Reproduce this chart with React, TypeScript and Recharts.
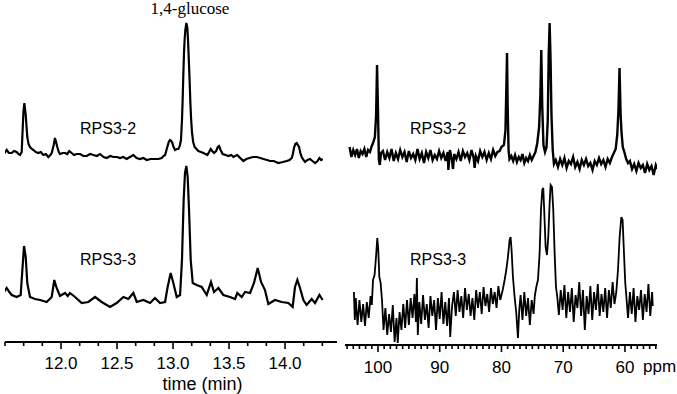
import { Line, LineChart, XAxis, YAxis } from "recharts";

// GC traces: [time (min), detector response], baseline ~0
const gcRps32: [number, number][] = [
  [11.47, 3], [11.49, 1], [11.515, 5], [11.535, 2], [11.56, 2], [11.58, 4], [11.604, 3], [11.62, 1], [11.634, 0],
  [11.649, 3], [11.664, 42], [11.673, 52], [11.685, 40], [11.699, 18], [11.71, 11], [11.723, 8], [11.74, 6],
  [11.753, 5], [11.775, 3], [11.798, 2], [11.82, 3], [11.842, 0], [11.865, 1], [11.887, -2], [11.905, 0],
  [11.917, 2], [11.935, 10], [11.946, 17], [11.958, 12], [11.967, 8], [11.98, 3], [11.991, 1], [12.015, 2],
  [12.036, 2], [12.055, 1], [12.074, 4], [12.095, 2], [12.116, 0], [12.14, 1], [12.17, 1], [12.2, -1],
  [12.229, -1], [12.26, 1], [12.289, 0], [12.32, -1], [12.348, 1], [12.38, -2], [12.408, -3], [12.44, -1],
  [12.467, -2], [12.5, -2], [12.527, -3], [12.555, -2], [12.586, -4], [12.615, -2], [12.646, 0], [12.675, -3],
  [12.705, -4], [12.735, -3], [12.765, -5], [12.8, -4], [12.839, -4], [12.87, -4], [12.899, -3], [12.915, -1],
  [12.929, 0], [12.949, 8], [12.962, 13], [12.973, 15], [12.985, 14], [12.994, 12], [13.005, 8], [13.018, 5],
  [13.035, 6], [13.048, 6], [13.06, 9], [13.071, 15], [13.08, 35], [13.086, 55], [13.092, 80], [13.098, 102],
  [13.104, 116], [13.11, 125], [13.119, 132], [13.128, 127], [13.134, 115], [13.14, 98], [13.148, 75],
  [13.155, 52], [13.162, 35], [13.17, 22], [13.18, 13], [13.193, 8], [13.21, 6], [13.226, 4], [13.25, 3],
  [13.271, 2], [13.29, 1], [13.307, 0], [13.322, 3], [13.336, 6], [13.35, 4], [13.366, 2], [13.385, 4],
  [13.4, 8], [13.411, 9], [13.425, 5], [13.443, 1], [13.47, 0], [13.494, -1], [13.52, 0], [13.539, -2],
  [13.555, -1], [13.574, 0], [13.6, -3], [13.628, -6], [13.655, -4], [13.682, -3], [13.715, -2], [13.747, -2],
  [13.78, -3], [13.807, -4], [13.84, -5], [13.866, -6], [13.9, -6], [13.94, -8], [13.98, -7], [14.015, -6],
  [14.04, -5], [14.06, -3], [14.07, 1], [14.08, 7], [14.092, 11], [14.104, 12], [14.115, 10], [14.125, 8],
  [14.137, 2], [14.149, -2], [14.165, -5], [14.179, -7], [14.2, -5], [14.223, -4], [14.245, -6], [14.268, -8],
  [14.29, -6], [14.307, -3], [14.322, -5], [14.336, -4],
];

const gcRps33: [number, number][] = [
  [11.47, 9], [11.491, 8], [11.515, 12], [11.539, 8], [11.56, 5], [11.604, 3], [11.64, 5], [11.655, 30],
  [11.67, 54], [11.685, 43], [11.699, 17], [11.723, 3], [11.768, 1], [11.813, 0], [11.872, -2], [11.917, 3],
  [11.94, 20], [11.961, 12], [11.991, 4], [12.036, 7], [12.06, 4], [12.08, 7], [12.125, 3], [12.185, -3],
  [12.244, -2], [12.304, 3], [12.363, -2], [12.4375, -7], [12.497, -3], [12.557, 3], [12.601, 1], [12.646, 7],
  [12.676, -2], [12.735, 0], [12.795, -3], [12.839, 2], [12.884, -3], [12.929, -2], [12.952, 13], [12.979, 27],
  [13.003, 17], [13.033, 3], [13.063, 5], [13.08, 40], [13.095, 100], [13.107, 127], [13.119, 134],
  [13.131, 123], [13.143, 90], [13.158, 40], [13.176, 17], [13.211, 15], [13.256, 13], [13.301, 5],
  [13.339, 18], [13.366, 8], [13.405, 12], [13.449, 5], [13.509, 3], [13.554, 1], [13.574, 7], [13.613, 3],
  [13.643, 8], [13.688, 7], [13.723, 17], [13.756, 32], [13.786, 18], [13.821, 10], [13.851, -4], [13.911, 0],
  [13.97, -2], [14.03, -3], [14.068, -7], [14.089, 13], [14.11, 20], [14.134, 12], [14.164, 0], [14.193, -5],
  [14.238, 1], [14.268, -3], [14.307, 5], [14.336, 0],
];

// 13C NMR traces: [ppm, intensity]
const nmrRps32: [number, number][] = [
  [104.6, 8], [104.3, -2], [104.0, 5], [103.7, 0], [103.4, 6], [103.1, -3], [102.8, 4], [102.5, 1], [102.2, 6],
  [101.9, -2], [101.6, 5], [101.3, 3], [101.0, 9], [100.8, 12], [100.5, 18], [100.3, 40], [100.15, 90],
  [100.0, 45], [99.85, -5], [99.7, -10], [99.5, 2],
  [99.2, 4], [98.85, -5], [98.5, 3], [98.15, -3], [97.8, 6], [97.45, -6], [97.1, 2], [96.75, -4], [96.4, 5],
  [96.05, -2], [95.7, 3], [95.35, -7], [95.0, 4], [94.65, -3], [94.3, 1], [93.95, -5], [93.6, 6], [93.25, -4],
  [92.9, 2], [92.55, -8], [92.2, 3], [91.85, -3], [91.5, 5], [91.15, -5], [90.8, 0], [90.45, -4], [90.1, 4],
  [89.75, -3], [89.4, 2], [89.05, -6], [88.7, 3], [88.6, -15], [88.35, 5], [88.0, -6], [87.85, -14], [87.65, 1],
  [87.3, -4], [86.95, 3], [86.6, -6], [86.25, 4], [85.9, -2], [85.55, 2], [85.2, -5], [84.85, 5], [84.5, -3],
  [84.35, -13], [84.15, -1], [83.8, -6], [83.45, 4], [83.1, -2], [82.75, 3], [82.4, -5], [82.05, 2], [81.7, -4],
  [81.35, 5], [81.0, -1], [80.65, 3], [80.3, 4], [80.0, 8],
  [79.6, 10], [79.35, 25], [79.2, 70], [79.1, 102], [79.0, 50], [78.85, 5], [78.7, -4],
  [78.4, -1], [78.1, -6], [77.8, 0], [77.5, -7], [77.2, -2], [76.9, -5], [76.6, 1], [76.3, -8], [76.0, -3],
  [75.7, -6], [75.4, 0], [75.1, -5], [74.8, -1], [74.5, 3],
  [74.2, 12], [73.9, 28], [73.7, 60], [73.55, 105], [73.4, 50], [73.2, 10], [72.95, 3], [72.7, 8], [72.5, 35],
  [72.35, 100], [72.2, 132], [72.05, 95], [71.9, 40], [71.7, 5], [71.5, -9],
  [71.2, -5], [70.85, -12], [70.5, -4], [70.15, -10], [69.8, -3], [69.45, -13], [69.1, -6], [68.75, -9],
  [68.4, -2], [68.05, -12], [67.7, -7], [67.35, -14], [67.0, -5], [66.65, -10], [66.3, -4], [65.95, -11],
  [65.6, -8], [65.25, -15], [64.9, -6], [64.55, -10], [64.2, -3], [63.85, -9], [63.5, -5], [63.15, -12],
  [62.8, -4], [62.45, -8], [62.1, -2], [61.8, 2],
  [61.5, 6], [61.25, 20], [61.05, 45], [60.88, 87], [60.7, 40], [60.55, 22], [60.35, 8], [60.1, 3], [59.8, -4],
  [59.5, -8],
  [59.2, -6], [58.85, -14], [58.5, -9], [58.15, -16], [57.8, -8], [57.45, -13], [57.1, -10], [56.75, -18],
  [56.4, -9], [56.05, -15], [55.7, -11], [55.35, -20], [55.0, -10], [54.7, -14],
];

const nmrRps33: [number, number][] = [
  [103.9, 18], [103.75, -10], [103.6, 12], [103.3, -15], [103.0, 10], [102.7, -12], [102.4, 6], [102.1, -16],
  [101.8, 8], [101.5, -8], [101.2, 14], [101.0, 5],
  [100.8, 30], [100.55, 35], [100.32, 53], [100.11, 72], [99.95, 60], [99.78, 33], [99.57, 27], [99.35, 10],
  [99.1, -20], [98.8, 2], [98.5, -25], [98.2, -4], [97.9, -22], [97.6, 5], [97.3, -32], [97.0, -8], [96.8, -33],
  [96.5, -2], [96.2, -20], [95.9, 6], [95.6, -18],
  [95.3, 10], [95.0, -15], [94.7, 12], [94.4, -8], [94.1, 16], [93.85, -12], [93.7, 32], [93.55, -25],
  [93.3, 8], [93.0, -14], [92.7, 15], [92.4, -10], [92.1, 6], [91.8, -18], [91.5, 14], [91.2, -6], [90.9, 10],
  [90.6, -20], [90.3, 12], [90.0, -9], [89.7, 18], [89.4, -14], [89.1, 8], [88.8, -16], [88.5, 12], [88.3, -27],
  [88.0, 4],
  [87.7, 18], [87.4, -6], [87.1, 20], [86.8, -2], [86.5, 14], [86.2, -8], [85.9, 22], [85.6, 0], [85.3, 16],
  [85.0, -6], [84.7, 12], [84.4, -10], [84.1, 20], [83.8, 2], [83.5, 18], [83.2, -4], [82.9, 23], [82.6, 4],
  [82.3, 16], [82.0, -2], [81.7, 22], [81.4, 6], [81.1, 18], [80.8, 2], [80.5, 24], [80.2, 10], [79.8, 20],
  [79.49, 30], [79.22, 40], [78.95, 53], [78.68, 70], [78.52, 73], [78.36, 60], [78.14, 33], [77.87, 13],
  [77.6, -3], [77.33, -28], [77.12, 0],
  [76.9, 15], [76.6, -10], [76.3, 18], [76.0, -6], [75.7, 12], [75.4, -15], [75.1, 10], [74.8, -4], [74.6, 14],
  [74.36, 23], [74.09, 30], [73.82, 57], [73.6, 100], [73.39, 120], [73.23, 122], [73.06, 97], [72.85, 63],
  [72.63, 55], [72.42, 73], [72.2, 107], [72.04, 125], [71.82, 123], [71.61, 100], [71.39, 57], [71.17, 23],
  [70.96, 13],
  [70.7, -5], [70.4, 20], [70.1, 0], [69.8, 25], [69.5, -8], [69.2, 18], [68.9, -2], [68.6, 22], [68.3, -12],
  [68.0, 15], [67.7, 2], [67.4, 28], [67.1, -6], [66.8, 20], [66.5, -20], [66.2, 14], [65.9, -4], [65.6, 24],
  [65.3, -10], [65.0, 18], [64.7, 0], [64.4, 26], [64.1, -6], [63.8, 16], [63.5, -2], [63.2, 22], [62.9, -8],
  [62.6, 20], [62.3, 2], [62.0, 28], [61.7, 6], [61.4, 18],
  [61.13, 40], [60.86, 73], [60.59, 93], [60.38, 90], [60.16, 57], [59.95, 27], [59.73, 10],
  [59.5, -8], [59.2, 18], [58.9, -4], [58.6, 22], [58.3, -12], [58.0, 14], [57.7, 0], [57.4, 20], [57.1, -10],
  [56.8, 16], [56.5, -2], [56.2, 26], [55.9, -6], [55.6, 18], [55.5, 4],
];

const timeTicks = [
  11.5, 11.667, 11.833, 12, 12.167, 12.333, 12.5, 12.667, 12.833, 13, 13.167, 13.333, 13.5, 13.667, 13.833,
  14, 14.167, 14.333,
];
const timeLabels = [12, 12.5, 13, 13.5, 14];

const ppmTicks = [
  105, 104, 103, 102, 101, 100, 99, 98, 97, 96, 95, 94, 93, 92, 91, 90, 89, 88, 87, 86, 85, 84, 83, 82, 81,
  80, 79, 78, 77, 76, 75, 74, 73, 72, 71, 70, 69, 68, 67, 66, 65, 64, 63, 62, 61, 60, 59, 58, 57, 56, 55,
];
const ppmLabels = [100, 90, 80, 70, 60];

const toPoints = (arr: [number, number][]) => arr.map(([x, y]) => ({ x, y }));

const SANS = "'Liberation Sans', Arial, sans-serif";

function AxisTick(props: any) {
  const { x, y, payload, labels, digits, labelDy } = props;
  const v = Number(payload.value);
  const major = labels.some((l: number) => Math.abs(l - v) < 1e-6);
  return (
    <g>
      <line x1={x} x2={x} y1={y} y2={y + (major ? 7 : 4)} stroke="#000" strokeWidth={1.6} />
      {major && (
        <text x={x} y={y + labelDy} textAnchor="middle" fontFamily={SANS} fontSize={17} fill="#000">
          {v.toFixed(digits)}
        </text>
      )}
    </g>
  );
}

export default function App() {
  return (
    <div style={{ position: "absolute", left: 0, top: 0, width: 677, height: 394, background: "#fff" }}>
      <div style={{ position: "absolute", left: 0, top: 0 }}>
        <LineChart width={345} height={394} margin={{ top: 0, right: 8, bottom: 12, left: 5 }}>
          <XAxis
            dataKey="x"
            type="number"
            domain={[11.5, 14.464]}
            allowDataOverflow
            ticks={timeTicks}
            interval={0}
            tickSize={0}
            tickMargin={0}
            tickLine={false}
            height={40}
            axisLine={{ stroke: "#000", strokeWidth: 2 }}
            tick={(p: any) => <AxisTick {...p} labels={timeLabels} digits={1} labelDy={26.5} />}
          />
          <YAxis yAxisId="top" hide type="number" domain={[-187, 155]} allowDataOverflow />
          <YAxis yAxisId="bottom" hide type="number" domain={[-42, 300]} allowDataOverflow />
          <Line yAxisId="top" data={toPoints(gcRps32)} dataKey="y" type="linear" stroke="#000" strokeWidth={2.2} dot={false} isAnimationActive={false} />
          <Line yAxisId="bottom" data={toPoints(gcRps33)} dataKey="y" type="linear" stroke="#000" strokeWidth={2.2} dot={false} isAnimationActive={false} />
        </LineChart>
      </div>
      <div style={{ position: "absolute", left: 338, top: 0 }}>
        <LineChart width={339} height={394} margin={{ top: 0, right: 20, bottom: 12, left: 7 }}>
          <XAxis
            dataKey="x"
            type="number"
            domain={[54.81, 105.34]}
            reversed
            allowDataOverflow
            ticks={ppmTicks}
            interval={0}
            tickSize={0}
            tickMargin={0}
            tickLine={false}
            height={37}
            axisLine={{ stroke: "#000", strokeWidth: 2 }}
            tick={(p: any) => <AxisTick {...p} labels={ppmLabels} digits={0} labelDy={27.5} />}
          />
          <YAxis yAxisId="top" hide type="number" domain={[-190, 155]} allowDataOverflow />
          <YAxis yAxisId="bottom" hide type="number" domain={[-35, 310]} allowDataOverflow />
          <Line yAxisId="top" data={toPoints(nmrRps32)} dataKey="y" type="linear" stroke="#000" strokeWidth={2.4} dot={false} isAnimationActive={false} />
          <Line yAxisId="bottom" data={toPoints(nmrRps33)} dataKey="y" type="linear" stroke="#000" strokeWidth={1.8} dot={false} isAnimationActive={false} />
        </LineChart>
      </div>
      <svg width={677} height={394} style={{ position: "absolute", left: 0, top: 0, pointerEvents: "none" }}>
        <text x={190} y={14} textAnchor="middle" fontFamily="'Liberation Serif', 'Times New Roman', serif" fontSize={17}>1,4-glucose</text>
        <text x={80} y={134} fontFamily={SANS} fontSize={16}>RPS3-2</text>
        <text x={80} y={265} fontFamily={SANS} fontSize={16}>RPS3-3</text>
        <text x={410} y={133.5} fontFamily={SANS} fontSize={16}>RPS3-2</text>
        <text x={410} y={265} fontFamily={SANS} fontSize={16}>RPS3-3</text>
        <text x={202.5} y={390} textAnchor="middle" fontFamily={SANS} fontSize={18}>time (min)</text>
        <text x={643} y={372} fontFamily={SANS} fontSize={17}>ppm</text>
      </svg>
    </div>
  );
}
